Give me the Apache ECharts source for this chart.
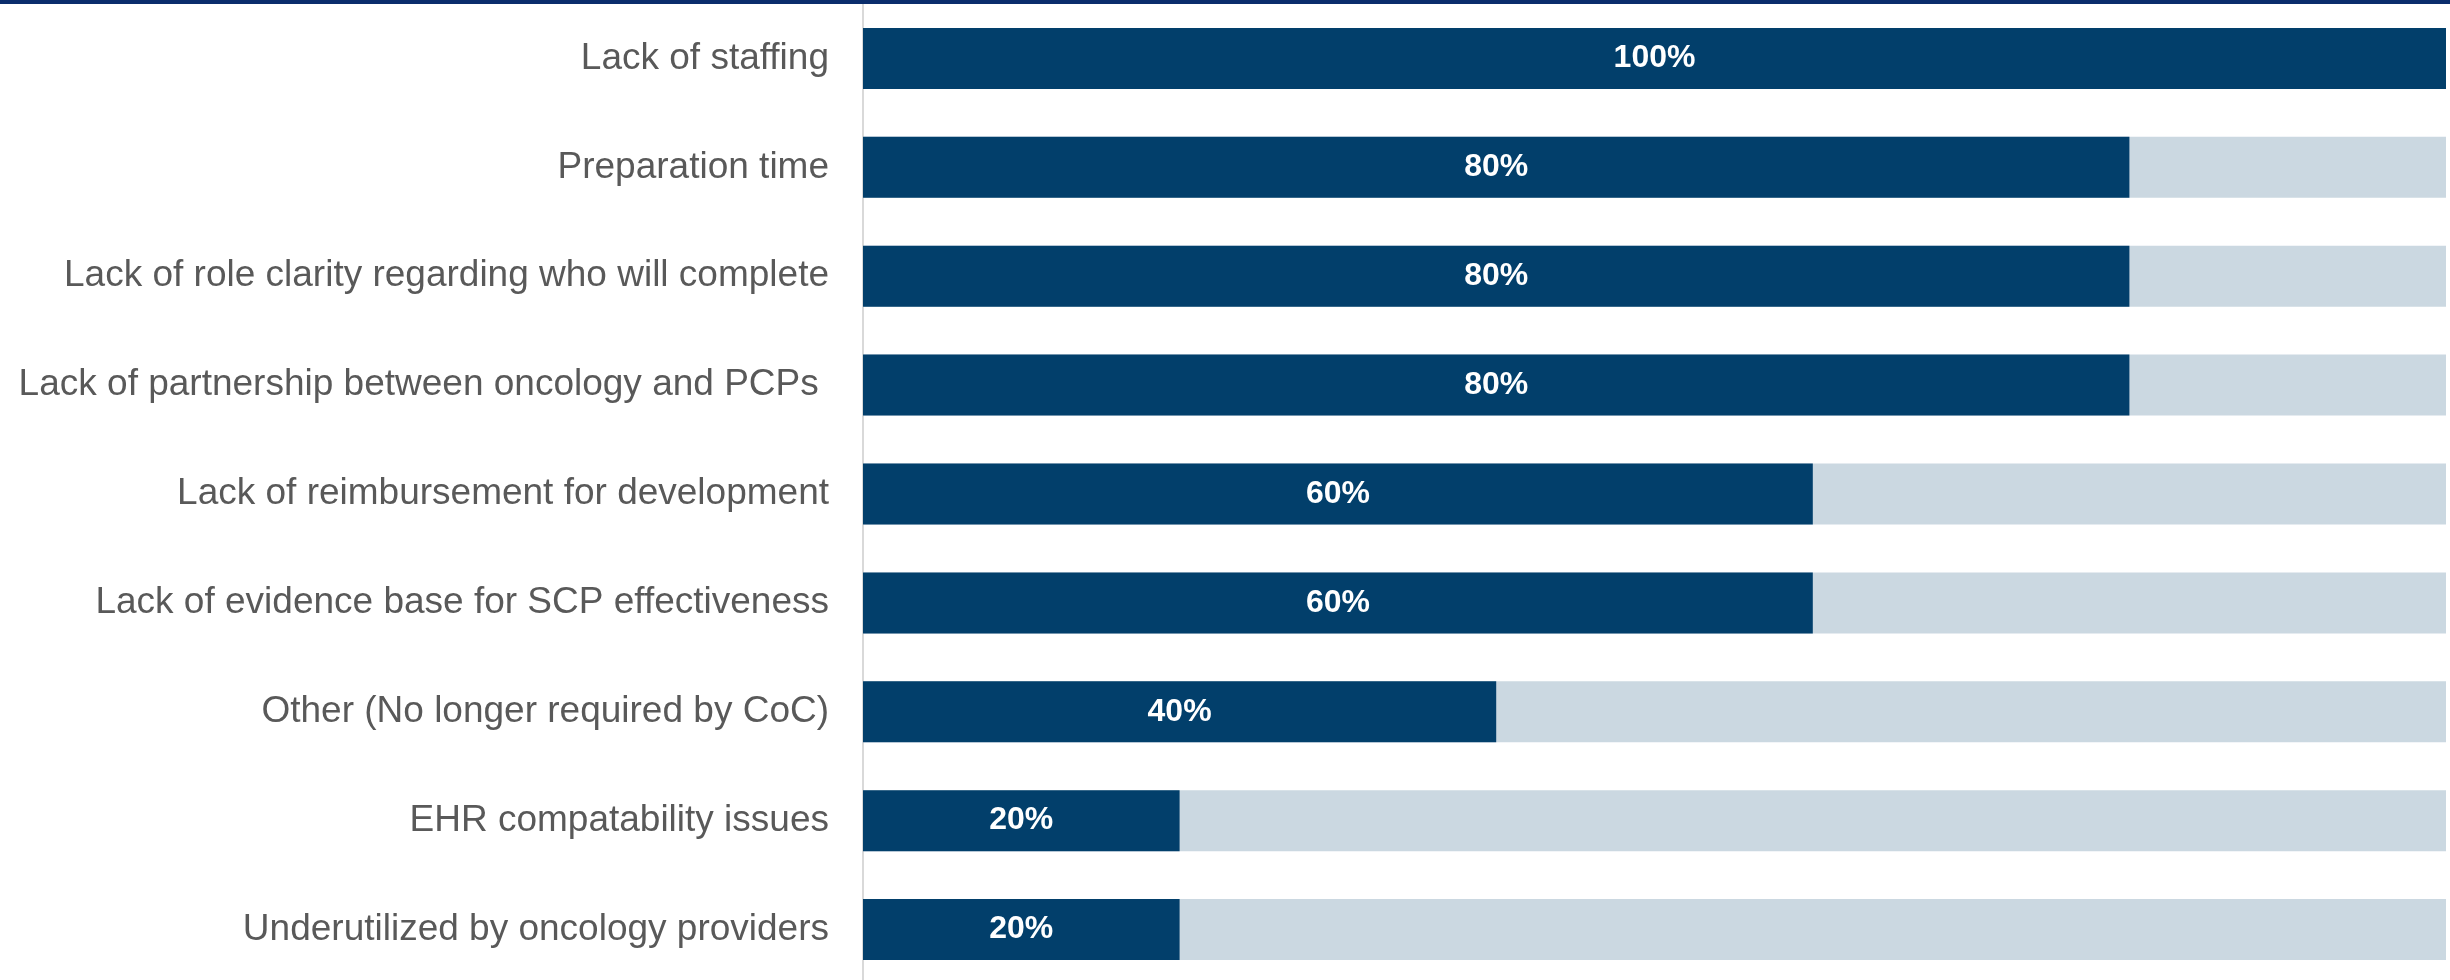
<!DOCTYPE html>
<html>
<head>
<meta charset="utf-8">
<title>Barriers to survivorship care plan implementation</title>
<script src="https://cdn.jsdelivr.net/npm/echarts@6/dist/echarts.min.js"></script>
<style>
  html, body { margin: 0; padding: 0; background: #ffffff; }
  #chart { width: 2450px; height: 980px; }
</style>
</head>
<body>
<div id="chart"></div>
<script>
// Barriers, listed top to bottom
const categories = [
  'Lack of staffing',
  'Preparation time',
  'Lack of role clarity regarding who will complete',
  'Lack of partnership between oncology and PCPs ',
  'Lack of reimbursement for development',
  'Lack of evidence base for SCP effectiveness',
  'Other (No longer required by CoC)',
  'EHR compatability issues',
  'Underutilized by oncology providers'
];

// Share of respondents citing each barrier (%)
const values = [100, 80, 80, 80, 60, 60, 40, 20, 20];

const axisMax = 100;

const chart = echarts.init(document.getElementById('chart'), null, { renderer: 'canvas' });

chart.setOption({
  backgroundColor: '#ffffff',
  animation: false,
  graphic: [
    {
      type: 'rect',
      left: 0,
      top: 0,
      shape: { width: 2450, height: 4 },
      style: { fill: '#0a2d6c' },
      z: 100
    }
  ],
  grid: {
    left: 863,
    right: 4,
    top: 4,
    height: 980,
    containLabel: false,
    outerBoundsMode: 'none'
  },
  xAxis: {
    type: 'value',
    min: 0,
    max: axisMax,
    show: false
  },
  yAxis: {
    type: 'category',
    data: categories,
    inverse: true,
    axisLine: { show: true, lineStyle: { color: '#d9d9d9', width: 2 } },
    axisTick: { show: false },
    splitLine: { show: false },
    axisLabel: {
      margin: 34,
      color: '#595959',
      fontSize: 37,
      fontFamily: 'Liberation Sans, Arial, sans-serif'
    }
  },
  series: [
    {
      type: 'bar',
      data: values,
      barCategoryGap: '44%',
      showBackground: true,
      backgroundStyle: { color: '#cbd8e1' },
      itemStyle: { color: '#023f6b' },
      label: {
        show: true,
        position: 'inside',
        formatter: '{c}%',
        color: '#ffffff',
        fontSize: 32,
        fontWeight: 'bold',
        fontFamily: 'Liberation Sans, Arial, sans-serif'
      }
    }
  ]
});
</script>
</body>
</html>
